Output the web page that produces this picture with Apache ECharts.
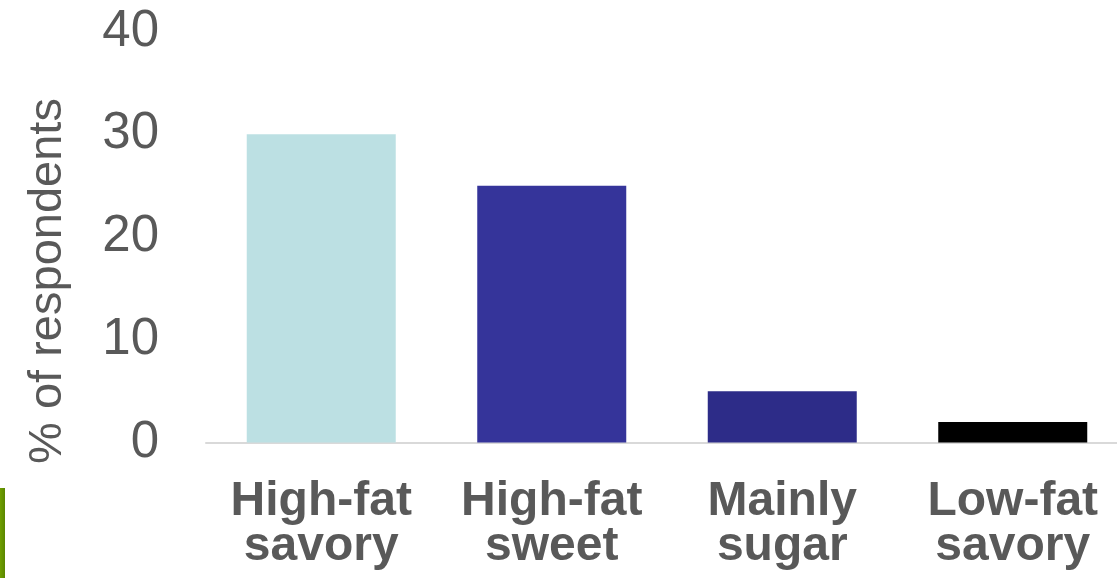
<!DOCTYPE html>
<html>
<head>
<meta charset="utf-8">
<script src="https://cdn.jsdelivr.net/npm/echarts@6/dist/echarts.min.js"></script>
<style>html,body{margin:0;padding:0;background:#fff;overflow:hidden;}#c{width:1128px;height:578px;}</style>
</head>
<body>
<div id="c"></div>
<script>
const categories = ['High-fat\nsavory', 'High-fat\nsweet', 'Mainly\nsugar', 'Low-fat\nsavory'];
const values = [30, 25, 5, 2];
const barColors = ['#BCE0E3', '#35349A', '#2D2C88', '#000000'];
const yTicks = [0, 10, 20, 30, 40];
const axisName = '% of respondents';

const chart = echarts.init(document.getElementById('c'), null, {renderer: 'canvas'});
chart.setOption({
  animation: false,
  backgroundColor: '#ffffff',
  grid: {left: 206, top: 31.5, right: 0, bottom: 135.5, containLabel: false},
  xAxis: {
    type: 'category',
    data: categories,
    axisLine: {show: true, lineStyle: {color: '#D9D9D9', width: 2}},
    axisTick: {show: false},
    axisLabel: {
      color: '#595959', fontFamily: 'Liberation Sans, Arial, sans-serif',
      fontWeight: 'bold', fontSize: 48, lineHeight: 45, margin: 37, interval: 0
    }
  },
  yAxis: {
    type: 'value',
    min: yTicks[0], max: yTicks[yTicks.length - 1], interval: 10,
    axisLine: {show: false},
    axisTick: {show: false},
    splitLine: {show: false},
    axisLabel: {
      color: '#595959', fontFamily: 'Liberation Sans, Arial, sans-serif',
      fontSize: 51, margin: 47
    }
  },
  graphic: [
    {
      type: 'text', x: 48, y: 281, rotation: Math.PI / 2,
      style: {
        text: axisName, fill: '#595959', fontSize: 47,
        fontFamily: 'Liberation Sans, Arial, sans-serif',
        align: 'center', verticalAlign: 'middle'
      }
    },
    {
      type: 'rect', shape: {x: 0, y: 488, width: 5, height: 90},
      style: {fill: new echarts.graphic.LinearGradient(0, 0, 1, 0, [
        {offset: 0, color: '#6E9E00'}, {offset: 1, color: '#5A8600'}
      ])}
    }
  ],
  series: [{
    type: 'bar',
    data: values.map((v, i) => ({value: v, itemStyle: {color: barColors[i]}})),
    barWidth: 149
  }]
});
</script>
</body>
</html>
